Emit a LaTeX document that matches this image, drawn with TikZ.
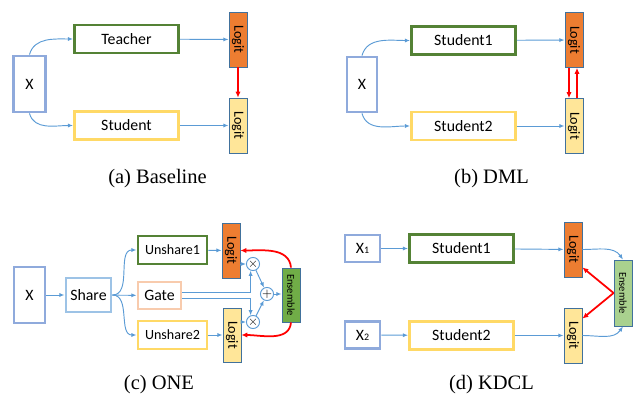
\documentclass[tikz,border=0pt]{standalone}
\usepackage{fontspec}
\usepackage{graphicx}
\setmainfont{Liberation Serif}
\newfontfamily\boxfont{Carlito}
\usetikzlibrary{arrows.meta}
\definecolor{inblue}{HTML}{8FAADC}
\definecolor{shareblue}{HTML}{9DC3E6}
\definecolor{tgreen}{HTML}{548235}
\definecolor{syellow}{HTML}{FFD966}
\definecolor{lorange}{HTML}{ED7D31}
\definecolor{lyellow}{HTML}{FFE699}
\definecolor{lborder}{HTML}{41719C}
\definecolor{egreen}{HTML}{70AD47}
\definecolor{elgreen}{HTML}{A9D18E}
\definecolor{gpeach}{HTML}{F8CBAD}
\definecolor{fblue}{HTML}{5B9BD5}

\begin{document}
\begin{tikzpicture}[
		x=0.03cm, y=-0.03cm,
		every node/.style={inner sep=0pt, font=\boxfont\fontsize{13.5}{15}\selectfont},
		box/.style={draw, line width=2.4pt, fill=white, minimum width=3.12cm, minimum height=0.84cm},
		inbox/.style={box, draw=inblue, minimum width=0.96cm, minimum height=1.68cm},
		logit/.style={draw=lborder, line width=0.7pt, minimum width=0.54cm, minimum height=1.65cm,
			font=\boxfont\fontsize{12}{12}\selectfont},
		ens/.style={logit, minimum height=1.62cm, font=\boxfont\fontsize{9}{10}\selectfont},
		opnode/.style={circle, draw=fblue, line width=0.8pt, fill=white, minimum size=0.36cm,
			font=\fontsize{11}{11}\selectfont},
		caption/.style={font=\rmfamily\fontsize{17.5}{20}\selectfont},
		flow/.style={draw=fblue, line width=0.8pt, -{Latex[length=4.5pt, width=3.5pt]}},
		kd/.style={draw=red, line width=1.5pt, -{Latex[length=5pt, width=4.5pt]}}
	]
  \useasboundingbox (0,0) rectangle (637,396);
  % (a)
  \node (x_a) [inbox] at (29.5,84) {X};
  \node (teacher) [box, draw=tgreen] at (126.5,39) {Teacher};
  \node (student) [box, draw=syellow] at (126.5,125.5) {Student};
  \node (logit_t) [logit, fill=lorange] at (238,39.5) {\rotatebox{-90}{Logit}};
  \node (logit_s) [logit, fill=lyellow] at (238,125.5) {\rotatebox{-90}{Logit}};
  \node (cap_a) [caption] at (157.5,179) {(a) Baseline};
  \draw [flow] (x_a.north) to [out=75, in=180] (teacher.west);
  \draw [flow] (x_a.south) to [out=-75, in=180] (student.west);
  \draw [flow] (teacher) -- (logit_t);
  \draw [flow] (student) -- (logit_s);
  \draw [kd] (logit_t) -- (logit_s);
  % (b)
  \node (x_b) [inbox, minimum width=0.9cm, minimum height=1.65cm] at (362,84.5) {X};
  \node (stu_b1) [box, draw=tgreen] at (463.5,40.5) {Student1};
  \node (stu_b2) [box, draw=syellow] at (463.5,126) {Student2};
  \node (logit_b1) [logit, fill=lorange] at (574,40) {\rotatebox{-90}{Logit}};
  \node (logit_b2) [logit, fill=lyellow] at (574,126) {\rotatebox{-90}{Logit}};
  \node (cap_b) [caption] at (491.5,179) {(b) DML};
  \draw [flow] (x_b.north) to [out=75, in=180] (stu_b1.west);
  \draw [flow] (x_b.south) to [out=-75, in=180] (stu_b2.west);
  \draw [flow] (stu_b1) -- (logit_b1);
  \draw [flow] (stu_b2) -- (logit_b2);
  \draw [kd] ([xshift=-0.15cm]logit_b1.south) -- ([xshift=-0.15cm]logit_b2.north);
  \draw [kd] ([xshift=0.09cm]logit_b2.north) -- ([xshift=0.09cm]logit_b1.south);
  % (c)
  \node (x_c) [inbox, minimum width=0.93cm] at (29.5,295) {X};
  \node (share) [box, draw=shareblue, minimum width=1.35cm, minimum height=1.02cm] at (88.5,295) {Share};
  \node (unshare1) [box, draw=tgreen, minimum width=2.07cm, font=\boxfont\fontsize{12}{14}\selectfont] at (172.5,250) {Unshare1};
  \node (gate) [box, draw=gpeach, minimum width=1.29cm, minimum height=0.81cm] at (159.5,295.5) {Gate};
  \node (unshare2) [box, draw=syellow, minimum width=2.07cm, font=\boxfont\fontsize{12}{14}\selectfont] at (172.5,335) {Unshare2};
  \node (logit_c1) [logit, fill=lorange] at (231,250.5) {\rotatebox{-90}{Logit}};
  \node (logit_c2) [logit, fill=lyellow, minimum height=1.62cm] at (232,335) {\rotatebox{-90}{Logit}};
  \node (ens_c) [ens, fill=egreen] at (291,295) {\rotatebox{-90}{Ensemble}};
  \node (mul_1) [opnode] at (253,264) {$\times$};
  \node (add) [opnode] at (267,294) {$+$};
  \node (mul_2) [opnode] at (253,322) {$\times$};
  \node (cap_c) [caption] at (159,385) {(c) ONE};
  \draw [flow] (x_c) -- (share);
  \draw [flow] (share.east) to [out=0, in=180] (unshare1.west);
  \draw [flow] (share) -- (gate);
  \draw [flow] (share.east) to [out=0, in=180] (unshare2.west);
  \draw [flow] (unshare1) -- (logit_c1);
  \draw [flow] (unshare2) -- (logit_c2);
  \draw [flow] (mul_1 -| logit_c1.east) -- (mul_1);
  \draw [flow] (mul_2 -| logit_c2.east) -- (mul_2);
  \draw [flow] ([yshift=0.1cm]gate.east) -| (mul_1.-110);
  \draw [flow] ([yshift=-0.1cm]gate.east) -| (mul_2.110);
  \draw [flow] (mul_1) -- (add);
  \draw [flow] (mul_2) -- (add);
  \draw [flow] (add) -- (add -| ens_c.west);
  \draw [kd] (ens_c.north) to [out=95, in=0] (logit_c1.east);
  \draw [kd] (ens_c.south) to [out=-95, in=0] (logit_c2.east);
  % (d)
  \node (x_d1) [box, draw=inblue, minimum width=1.05cm, minimum height=0.81cm] at (362.5,248.5) {X{\fontsize{8.5}{9}\selectfont 1}};
  \node (x_d2) [box, draw=inblue, minimum width=1.05cm, minimum height=0.81cm] at (362.5,335) {X{\fontsize{8.5}{9}\selectfont 2}};
  \node (stu_d1) [box, draw=tgreen] at (461.5,248.5) {Student1};
  \node (stu_d2) [box, draw=syellow] at (461.5,335.5) {Student2};
  \node (logit_d1) [logit, fill=lorange] at (573,249.5) {\rotatebox{-90}{Logit}};
  \node (logit_d2) [logit, fill=lyellow] at (573,335.5) {\rotatebox{-90}{Logit}};
  \node (ens_d) [ens, fill=elgreen, minimum height=1.98cm] at (623,293) {\rotatebox{-90}{Ensemble}};
  \node (cap_d) [caption] at (491.5,385) {(d) KDCL};
  \draw [flow] (x_d1) -- (stu_d1);
  \draw [flow] (x_d2) -- (stu_d2);
  \draw [flow] (stu_d1) -- (logit_d1);
  \draw [flow] (stu_d2) -- (logit_d2);
  \draw [flow] (logit_d1.east) to [out=0, in=125] (ens_d.north);
  \draw [flow] (logit_d2.east) to [out=0, in=-125] (ens_d.south);
  \draw [kd] (ens_d.west) -- ([yshift=0.3cm]logit_d1.south east);
  \draw [kd] (ens_d.west) -- ([yshift=-0.33cm]logit_d2.north east);
\end{tikzpicture}
\end{document}
